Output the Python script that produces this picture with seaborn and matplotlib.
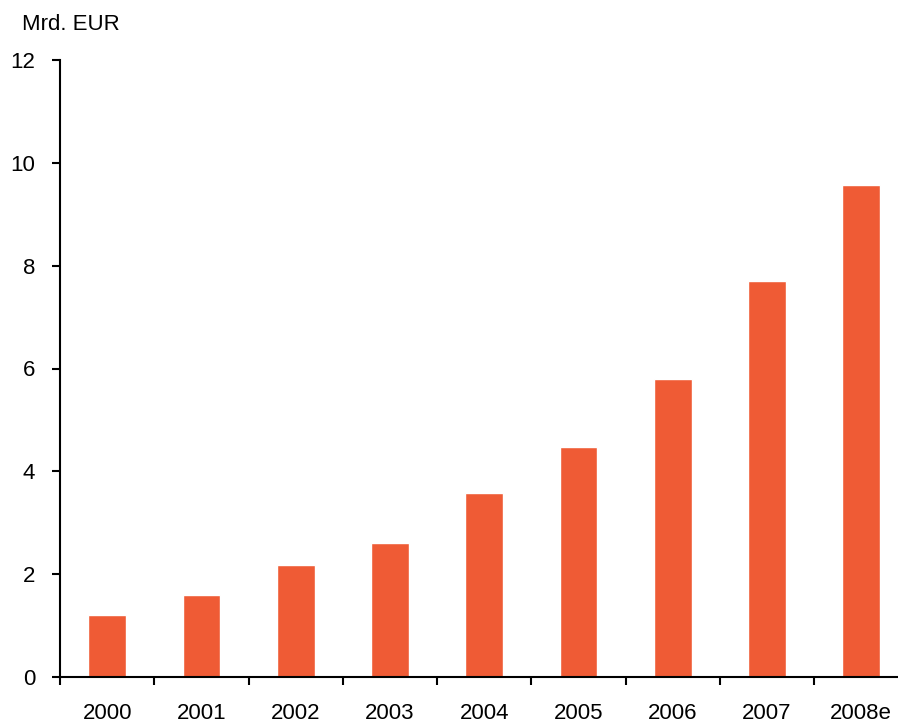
import matplotlib
matplotlib.use("Agg")
import matplotlib.pyplot as plt
import seaborn as sns
import pandas as pd
import numpy as np

# Werte (Mrd. EUR)
years = ['2000', '2001', '2002', '2003', '2004', '2005', '2006', '2007', '2008e']
values = [1.21, 1.60, 2.18, 2.61, 3.58, 4.47, 5.80, 7.70, 9.57]

bar_color = '#EF5B35'

sns.set_style("white")
plt.rcParams['font.family'] = ['Liberation Sans', 'DejaVu Sans']
plt.rcParams['text.color'] = 'black'
plt.rcParams['xtick.color'] = 'black'
plt.rcParams['ytick.color'] = 'black'

df = pd.DataFrame({'year': years, 'value': values})

fig = plt.figure(figsize=(8.98, 7.25), dpi=100)
ax = fig.add_axes([60 / 898, 48 / 725, 1 - 60 / 898, (677 - 60) / 725])

sns.barplot(data=df, x='year', y='value', color=bar_color, width=0.4,
            saturation=1, ax=ax)

ax.set_ylim(0, 12)
ax.set_xlim(-0.5, 8.39)
ax.set_yticks([0, 2, 4, 6, 8, 10, 12])
ax.tick_params(axis='y', which='major', length=6, width=1.5, direction='out',
               labelsize=16, pad=12, color='black', labelcolor='black', left=True)

# Striche an den Kategoriegrenzen, Beschriftung in der Mitte
n = len(years)
ax.set_xticks(np.arange(n) - 0.5)
ax.set_xticklabels([])
ax.set_xticks(np.arange(n), minor=True)
ax.set_xticklabels(years, minor=True)
ax.tick_params(axis='x', which='major', length=6, width=1.5, direction='out',
               color='black', bottom=True)
ax.tick_params(axis='x', which='minor', length=0, labelsize=16, pad=19,
               labelcolor='black')

for side in ['top', 'right']:
    ax.spines[side].set_visible(False)
for side in ['left', 'bottom']:
    ax.spines[side].set_color('black')
    ax.spines[side].set_linewidth(1.5)

ax.set_xlabel('')
ax.set_ylabel('')
fig.text(22 / 898, 1 - 25 / 725, 'Mrd. EUR', fontsize=16, va='center', ha='left',
         color='black')

fig.savefig('out.png', dpi=100)
